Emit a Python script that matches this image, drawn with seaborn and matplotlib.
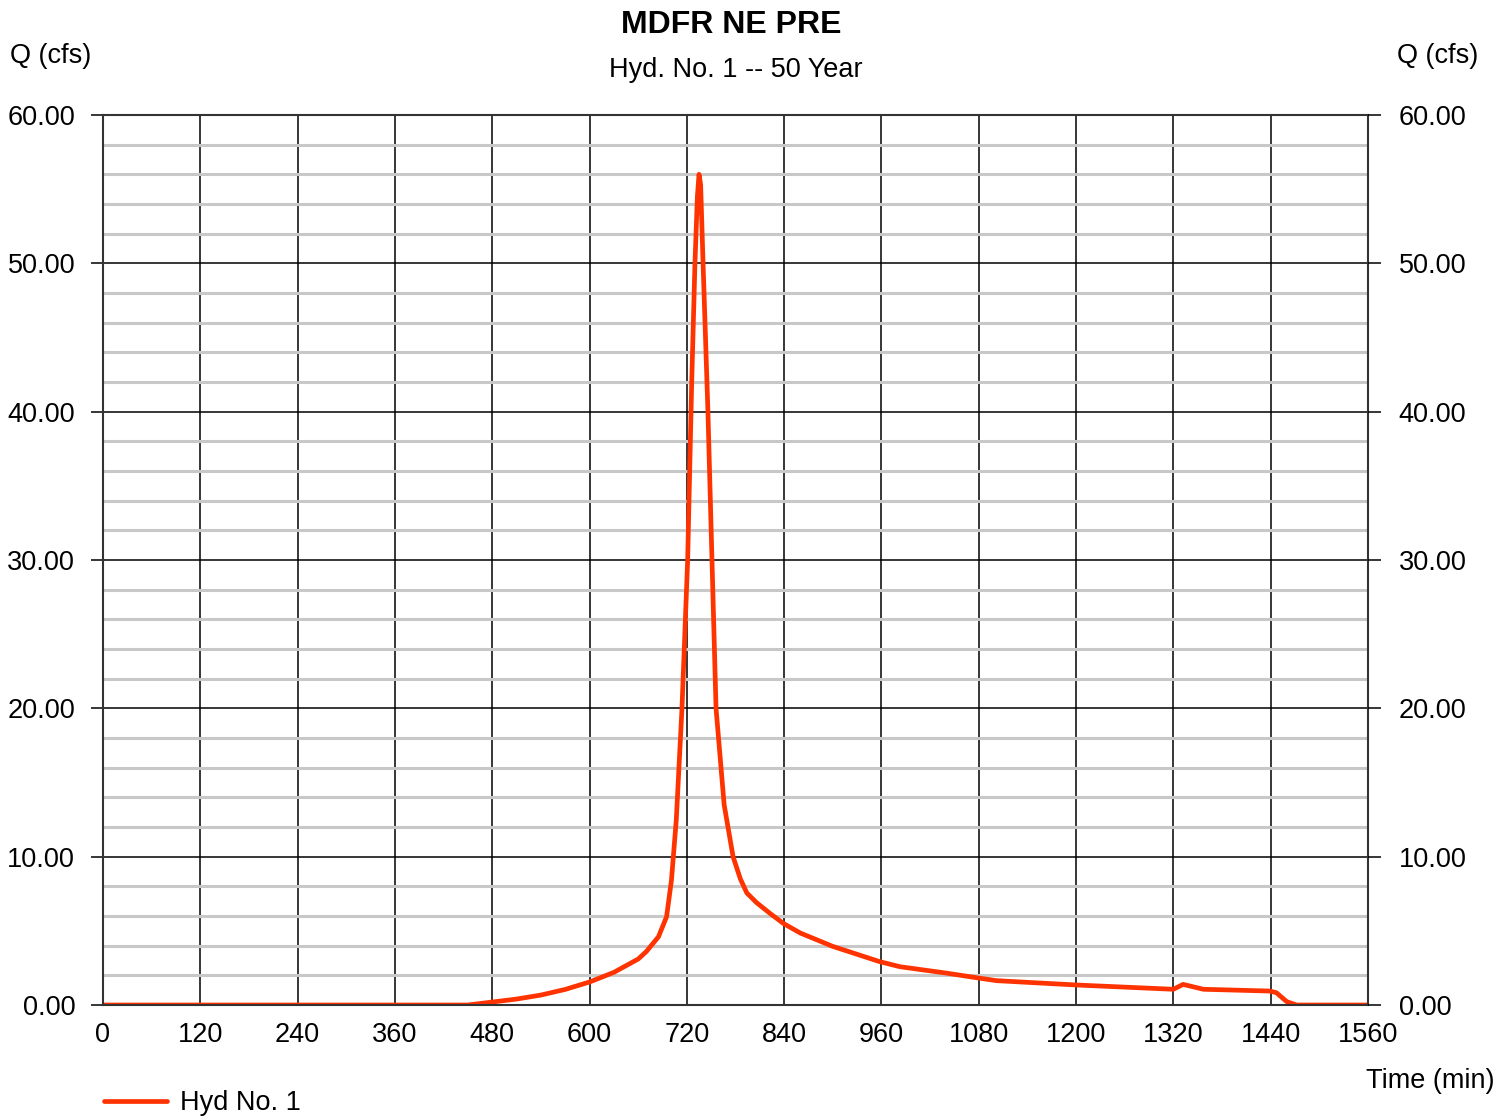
import numpy as np
import pandas as pd
import matplotlib.pyplot as plt
import seaborn as sns

# hydrograph
time_min = [0, 120, 240, 360, 450, 480, 510, 540, 570, 600, 630, 660, 670, 685,
            695, 701, 707, 714, 721, 726, 730, 733, 735, 737, 740, 746, 751,
            756, 766, 777, 786, 794, 806, 822, 839, 860, 900, 958, 983, 1040,
            1082, 1102, 1200, 1320, 1332, 1357, 1439, 1447, 1454, 1460, 1472,
            1560]
flow_cfs = [0, 0, 0, 0, 0, 0.2, 0.4, 0.67, 1.05, 1.55, 2.2, 3.1, 3.6, 4.6,
            5.95, 8.4, 12.5, 20.0, 30.0, 42.0, 50.0, 54.5, 56.0, 55.3, 50.0,
            40.0, 30.0, 20.0, 13.5, 10.0, 8.5, 7.55, 6.9, 6.2, 5.5, 4.85, 3.95,
            2.92, 2.58, 2.15, 1.8, 1.64, 1.35, 1.06, 1.39, 1.06, 0.94, 0.83,
            0.5, 0.22, 0.0, 0.0]

df = pd.DataFrame({"Time (min)": time_min, "Q (cfs)": flow_cfs})

sns.set_style("white")
plt.rcParams['font.family'] = ['Liberation Sans', 'DejaVu Sans']
plt.rcParams['text.color'] = 'black'
plt.rcParams['xtick.color'] = 'black'
plt.rcParams['ytick.color'] = 'black'
plt.rcParams['axes.labelcolor'] = 'black'

fs = 19.5

fig = plt.figure(figsize=(15.12, 11.16), dpi=100)
ax = fig.add_axes([103/1512, 1 - 1005/1116, 1265/1512, 890/1116])

ax.set_xlim(0, 1560)
ax.set_ylim(0, 60)
ax.set_xticks(np.arange(0, 1561, 120))
ax.set_yticks(np.arange(0, 61, 10))
ax.set_yticks(np.arange(0, 61, 2), minor=True)
ax.grid(which='minor', axis='y', color='#c8c8c8', linewidth=2.2)
ax.grid(which='major', axis='y', color='black', linewidth=1.1)
ax.grid(which='major', axis='x', color='black', linewidth=1.1)
ax.set_axisbelow(True)

sns.lineplot(data=df, x="Time (min)", y="Q (cfs)", ax=ax, color='#ff3300',
             linewidth=3.4, label='Hyd No. 1', legend=False)

ax.set_xlabel('')
ax.set_ylabel('')
ax.set_yticklabels([f'{v:.2f}' for v in np.arange(0, 61, 10)])
ax.tick_params(axis='y', which='major', length=9, width=1.1, color='black',
               labelsize=fs, direction='out', left=True, pad=11)
ax.tick_params(axis='y', which='minor', length=0)
ax.tick_params(axis='x', length=0, labelsize=fs, pad=12)
for s in ['left', 'bottom', 'top', 'right']:
    ax.spines[s].set_color('#333333')
    ax.spines[s].set_linewidth(1.5)

ax2 = ax.twinx()
ax2.set_ylim(0, 60)
ax2.set_yticks(np.arange(0, 61, 10))
ax2.set_yticklabels([f'{v:.2f}' for v in np.arange(0, 61, 10)])
ax2.tick_params(axis='y', length=9, width=1.1, labelsize=fs, pad=13)
for s in ['left', 'bottom', 'top', 'right']:
    ax2.spines[s].set_visible(False)

fig.text(731/1512, 1 - 25/1116, 'MDFR NE PRE', ha='center', va='center',
         fontsize=23, fontweight='bold')
fig.text(736/1512, 1 - 70/1116, 'Hyd. No. 1 -- 50 Year', ha='center',
         va='center', fontsize=fs)
fig.text(10/1512, 1 - 56/1116, 'Q (cfs)', ha='left', va='center', fontsize=fs)
fig.text(1478/1512, 1 - 56/1116, 'Q (cfs)', ha='right', va='center',
         fontsize=fs)
fig.text(1494/1512, 1 - 1081/1116, 'Time (min)', ha='right', va='center',
         fontsize=fs)

handles, labels = ax.get_legend_handles_labels()
fig.legend(handles, labels, loc='center left',
           bbox_to_anchor=(80/1512, 1 - 1103/1116), frameon=False,
           fontsize=fs, handlelength=2.3, handletextpad=0.5)

fig.savefig('out.png', dpi=100)
